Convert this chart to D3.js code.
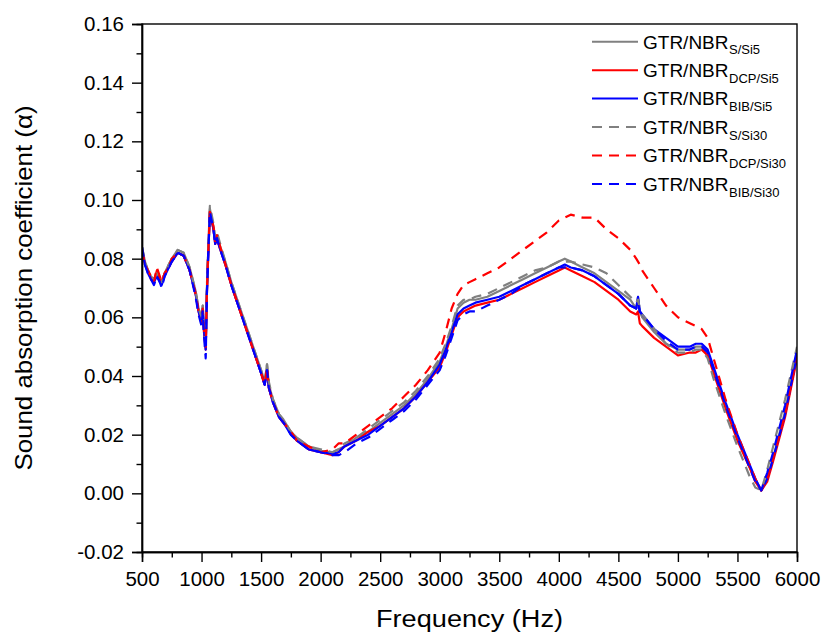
<!DOCTYPE html>
<html><head><meta charset="utf-8">
<script src="https://cdn.jsdelivr.net/npm/d3@7"></script>
<style>body{margin:0;background:#fff}svg{display:block}</style>
</head><body><svg id="c" width="822" height="634"></svg>
<script>
// ---- data ----
const freq = [
 500,525,550,575,600,625,650,665,690,725,
 750,800,850,900,950,975,1000,1010,1020,1035,
 1045,1055,1070,1085,1100,1115,1130,1150,1200,1250,
 1300,1350,1400,1450,1500,1530,1550,1565,1600,1650,
 1690,1750,1800,1900,2000,2100,2150,2200,2300,2400,
 2500,2600,2700,2800,2900,3000,3050,3100,3150,3200,
 3250,3300,3400,3500,3600,3700,3800,3900,4000,4050,
 4100,4200,4300,4400,4500,4600,4650,4665,4680,4700,
 4800,4900,5000,5100,5150,5200,5250,5300,5400,5500,
 5600,5650,5700,5750,5800,5900,6000];

const s_S_Si5 = [
 0.084,0.079,0.076,0.074,0.073,0.075,0.073,0.072,0.075,0.078,
 0.080,0.083,0.082,0.077,0.069,0.063,0.059,0.064,0.057,0.050,
 0.070,0.081,0.097,0.094,0.091,0.086,0.088,0.085,0.079,0.072,
 0.066,0.060,0.054,0.048,0.042,0.038,0.044,0.037,0.032,0.027,
 0.025,0.021,0.019,0.016,0.0145,0.014,0.015,0.016,0.019,0.021,
 0.024,0.027,0.030,0.034,0.039,0.045,0.050,0.056,0.063,0.065,
 0.066,0.066,0.067,0.069,0.071,0.073,0.075,0.077,0.079,0.080,
 0.079,0.077,0.075,0.072,0.069,0.066,0.063,0.067,0.062,0.060,
 0.055,0.051,0.049,0.049,0.050,0.050,0.048,0.042,0.030,0.019,
 0.009,0.005,0.001,0.005,0.012,0.028,0.048];

const s_DCP_Si5 = [
 0.083,0.078,0.076,0.073,0.072,0.076,0.073,0.072,0.075,0.077,
 0.079,0.082,0.081,0.076,0.068,0.062,0.058,0.062,0.055,0.049,
 0.068,0.080,0.096,0.093,0.090,0.085,0.087,0.084,0.078,0.071,
 0.065,0.059,0.053,0.047,0.041,0.037,0.042,0.036,0.031,0.026,
 0.024,0.021,0.018,0.015,0.014,0.013,0.014,0.016,0.018,0.021,
 0.023,0.026,0.029,0.033,0.038,0.043,0.048,0.054,0.060,0.062,
 0.063,0.064,0.065,0.066,0.068,0.070,0.072,0.074,0.076,0.077,
 0.076,0.074,0.072,0.069,0.066,0.062,0.061,0.062,0.058,0.057,
 0.053,0.050,0.047,0.048,0.048,0.049,0.047,0.041,0.029,0.018,
 0.009,0.004,0.001,0.004,0.011,0.026,0.046];

const s_BIB_Si5 = [
 0.083,0.078,0.075,0.073,0.072,0.074,0.072,0.071,0.074,0.077,
 0.079,0.082,0.081,0.076,0.068,0.062,0.058,0.063,0.056,0.049,
 0.069,0.080,0.096,0.093,0.090,0.085,0.087,0.084,0.078,0.071,
 0.065,0.059,0.053,0.047,0.041,0.037,0.042,0.036,0.031,0.026,
 0.024,0.020,0.018,0.015,0.014,0.0135,0.014,0.016,0.018,0.020,
 0.023,0.026,0.029,0.033,0.038,0.044,0.049,0.055,0.061,0.063,
 0.064,0.065,0.066,0.067,0.069,0.071,0.073,0.075,0.077,0.078,
 0.077,0.076,0.074,0.071,0.068,0.064,0.063,0.067,0.062,0.061,
 0.056,0.053,0.050,0.050,0.051,0.051,0.049,0.043,0.031,0.020,
 0.010,0.005,0.001,0.005,0.012,0.027,0.047];

const s_S_Si30 = [
 0.084,0.079,0.076,0.074,0.073,0.075,0.073,0.072,0.075,0.078,
 0.080,0.083,0.082,0.077,0.069,0.063,0.060,0.064,0.056,0.051,
 0.071,0.082,0.098,0.095,0.092,0.087,0.089,0.086,0.079,0.072,
 0.066,0.060,0.054,0.048,0.042,0.038,0.044,0.038,0.032,0.027,
 0.025,0.021,0.019,0.016,0.015,0.014,0.015,0.017,0.019,0.022,
 0.025,0.028,0.031,0.035,0.040,0.046,0.051,0.057,0.064,0.066,
 0.066,0.067,0.068,0.070,0.072,0.074,0.076,0.077,0.079,0.079,
 0.079,0.078,0.077,0.075,0.071,0.067,0.065,0.066,0.063,0.061,
 0.056,0.051,0.048,0.048,0.049,0.049,0.046,0.039,0.027,0.016,
 0.006,0.002,0.001,0.008,0.016,0.032,0.050];

const s_DCP_Si30 = [
 0.083,0.078,0.076,0.074,0.072,0.077,0.074,0.072,0.075,0.077,
 0.080,0.082,0.081,0.076,0.068,0.062,0.058,0.063,0.056,0.050,
 0.069,0.081,0.096,0.093,0.091,0.086,0.088,0.085,0.078,0.071,
 0.065,0.059,0.053,0.047,0.041,0.037,0.043,0.036,0.031,0.026,
 0.024,0.021,0.018,0.016,0.014,0.015,0.017,0.017,0.020,0.023,
 0.026,0.029,0.033,0.037,0.042,0.048,0.055,0.063,0.068,0.071,
 0.072,0.073,0.075,0.077,0.080,0.083,0.086,0.089,0.093,0.094,
 0.095,0.094,0.094,0.090,0.087,0.083,0.080,0.079,0.078,0.076,
 0.070,0.064,0.060,0.058,0.057,0.056,0.053,0.046,0.032,0.020,
 0.010,0.005,0.001,0.005,0.012,0.027,0.047];

const s_BIB_Si30 = [
 0.084,0.078,0.075,0.073,0.071,0.074,0.072,0.070,0.074,0.077,
 0.079,0.082,0.081,0.076,0.067,0.061,0.057,0.062,0.054,0.046,
 0.068,0.080,0.096,0.093,0.090,0.085,0.087,0.084,0.078,0.071,
 0.065,0.059,0.053,0.047,0.041,0.037,0.042,0.036,0.031,0.026,
 0.024,0.020,0.018,0.015,0.014,0.013,0.013,0.014,0.017,0.019,
 0.022,0.025,0.028,0.032,0.037,0.042,0.047,0.053,0.059,0.061,
 0.062,0.062,0.064,0.066,0.068,0.071,0.073,0.075,0.077,0.077,
 0.077,0.076,0.074,0.071,0.068,0.064,0.063,0.065,0.062,0.061,
 0.056,0.052,0.049,0.049,0.050,0.050,0.048,0.042,0.030,0.019,
 0.009,0.004,0.001,0.007,0.014,0.030,0.049];

const seriesValues = [s_S_Si5, s_DCP_Si5, s_BIB_Si5, s_S_Si30, s_DCP_Si30, s_BIB_Si30];
const seriesMain = "GTR/NBR";
const seriesSubs = ["S/Si5","DCP/Si5","BIB/Si5","S/Si30","DCP/Si30","BIB/Si30"];
const xTicks = [500,1000,1500,2000,2500,3000,3500,4000,4500,5000,5500,6000];
const xMinor = [750,1250,1750,2250,2750,3250,3750,4250,4750,5250,5750];
const yTicks = [-0.02,0,0.02,0.04,0.06,0.08,0.10,0.12,0.14,0.16];
const yMinor = [-0.01,0.01,0.03,0.05,0.07,0.09,0.11,0.13,0.15];
const xTitle = "Frequency (Hz)";
const yTitle = "Sound absorption coefficient (\u03B1)";

// ---- styles ----
const colors = ["#808080","#ff0000","#0000ff","#808080","#ff0000","#0000ff"];
const dashes = [null,null,null,"10,7","10,7","10,7"];
const FONT = "'Liberation Sans', Arial, sans-serif";

// ---- layout ----
const W = 822, H = 634;
const m = {l:142, t:24, r:25, b:82};
const svg = d3.select("#c");
svg.append("rect").attr("width",W).attr("height",H).attr("fill","#fff");

const x = d3.scaleLinear().domain([500,6000]).range([m.l, W-m.r]);
const y = d3.scaleLinear().domain([-0.02,0.16]).range([H-m.b, m.t]);

svg.append("clipPath").attr("id","clip").append("rect")
  .attr("x",m.l).attr("y",m.t).attr("width",W-m.l-m.r).attr("height",H-m.t-m.b);

// lines
const line = d3.line().x((d,i)=>x(freq[i])).y(d=>y(d));
const gl = svg.append("g").attr("clip-path","url(#clip)");
seriesValues.forEach((vals,k)=>{
  const n = Math.min(vals.length, freq.length);
  gl.append("path").datum(vals.slice(0,n))
    .attr("d", line).attr("fill","none")
    .attr("stroke", colors[k]).attr("stroke-width", 2.2)
    .attr("stroke-linejoin","round")
    .attr("stroke-dasharray", dashes[k]);
});

// frame
svg.append("rect").attr("x",m.l).attr("y",m.t)
  .attr("width",W-m.l-m.r).attr("height",H-m.t-m.b)
  .attr("fill","none").attr("stroke","#000").attr("stroke-width",1.4);

// axes
const fmtY = d => d===0 ? "0.00" : d3.format(".2f")(d).replace("\u2212","-");
const gx = svg.append("g").attr("transform",`translate(0,${H-m.b})`)
  .call(d3.axisBottom(x).tickValues(xTicks).tickSize(10).tickPadding(9).tickFormat(d3.format("d")));
const gxm = svg.append("g").attr("transform",`translate(0,${H-m.b})`)
  .call(d3.axisBottom(x).tickValues(xMinor).tickSize(5.5).tickFormat(""));
const gy = svg.append("g").attr("transform",`translate(${m.l},0)`)
  .call(d3.axisLeft(y).tickValues(yTicks).tickSize(10).tickPadding(8).tickFormat(fmtY));
const gym = svg.append("g").attr("transform",`translate(${m.l},0)`)
  .call(d3.axisLeft(y).tickValues(yMinor).tickSize(5.5).tickFormat(""));
[gx,gxm,gy,gym].forEach(g=>{
  g.select(".domain").attr("stroke","#000").attr("stroke-width",1.4);
  g.selectAll(".tick line").attr("stroke","#000").attr("stroke-width",1.4);
  g.selectAll(".tick text").attr("fill","#000").style("font-family",FONT).style("font-size","20.5px");
});

// titles
svg.append("text").attr("x",(m.l+W-m.r)/2).attr("y",627)
  .attr("text-anchor","middle").style("font-family",FONT).style("font-size","23px")
  .attr("textLength",187).attr("lengthAdjust","spacingAndGlyphs")
  .text(xTitle);
svg.append("text").attr("transform",`translate(32,${(m.t+H-m.b)/2}) rotate(-90)`)
  .attr("text-anchor","middle").style("font-family",FONT).style("font-size","24px")
  .attr("textLength",365).attr("lengthAdjust","spacingAndGlyphs")
  .text(yTitle);

// legend
const lg = svg.append("g");
seriesSubs.forEach((s,k)=>{
  const cy = 41.7 + k*28.45;
  lg.append("line").attr("x1",592).attr("x2",638).attr("y1",cy).attr("y2",cy)
    .attr("stroke",colors[k]).attr("stroke-width",2).attr("stroke-dasharray",dashes[k]);
  const t = lg.append("text").attr("x",643).attr("y",cy+6.8)
    .style("font-family",FONT).style("font-size","19px").attr("fill","#000");
  t.append("tspan").text(seriesMain);
  t.append("tspan").attr("dx",0.5).attr("dy",5.8).style("font-size","13px").text(s);
});
</script>
</body></html>
